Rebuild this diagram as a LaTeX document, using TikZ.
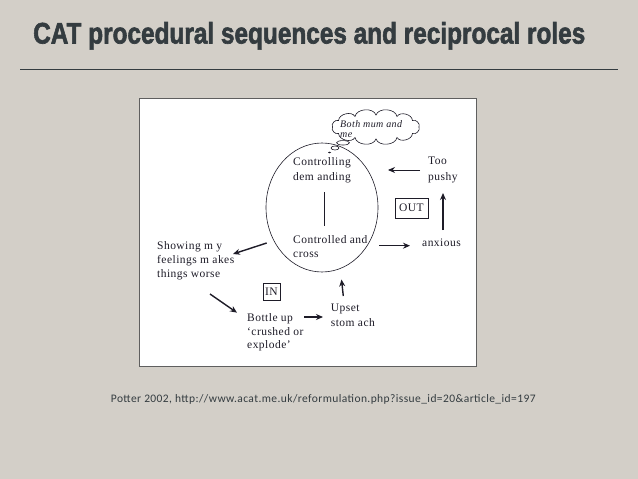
\documentclass[tikz,border=0pt]{standalone}
\usepackage{fontspec}
\usepackage{graphicx}
\usetikzlibrary{arrows.meta,shapes.geometric}
\setmainfont{Liberation Serif}
\newfontfamily\diagfont{Liberation Serif}[LetterSpace=4.0]
\newfontfamily\titlefont{Liberation Sans}[FakeBold=2.2]
\newfontfamily\capfont{Carlito}[LetterSpace=3.6]
\definecolor{bg}{RGB}{211,207,200}
\definecolor{titlec}{RGB}{52,60,64}
\definecolor{ink}{RGB}{30,28,40}
\definecolor{boxborder}{RGB}{95,95,95}
\newcommand{\mylines}[1]{\begin{tabular}[t]{@{}l@{}}#1\end{tabular}}
\tikzset{
  lbl/.style={anchor=base west, inner sep=0pt, text=ink, font=\diagfont\fontsize{11.5}{14.5}\selectfont},
  tagbox/.style={draw=ink, line width=0.6pt, inner sep=0pt, text=ink, font=\diagfont\fontsize{11.5}{14}\selectfont},
  arr/.style={-{Stealth[length=7pt,width=6pt]}, line width=1.4pt, draw=ink},
  thinarr/.style={-{Stealth[length=7pt,width=6pt]}, line width=0.9pt, draw=ink},
  thin line/.style={draw=ink, line width=0.6pt},
}
\begin{document}
\begin{tikzpicture}[x=1pt,y=-1pt]
\useasboundingbox (0,0) rectangle (638,479);
\fill[bg] (0,0) rectangle (638,479);
% title
\node[anchor=base west, inner sep=0pt, text=titlec] (title) at (33,43.5)
  {\resizebox{552pt}{21.5pt}{\titlefont\bfseries CAT procedural sequences and reciprocal roles}};
\coordinate (ruleL) at (20,69.3);
\coordinate (ruleR) at (618,69.3);
\draw[titlec, line width=1.1pt] (ruleL) -- (ruleR);
% diagram panel
\draw[fill=white, draw=boxborder, line width=1.2pt] (139.5,98.5) rectangle (476.5,366.3);
% self ellipse
\node[thin line, ellipse, minimum width=112pt, minimum height=129pt, inner sep=0pt] (self) at (322,207.5) {};
\coordinate (splitT) at (324,192);
\coordinate (splitB) at (324,226);
\draw[thin line] (splitT) -- (splitB);
% thought cloud
\draw[thin line, fill=white]
  (419,127) to[bend right=75] (412.4,120.5) to[bend right=75] (397,116.5) to[bend right=75] (376,115)
  to[bend right=75] (355,116.5) to[bend right=75] (338.6,120.5) to[bend right=75] (332.5,127)
  to[bend right=75] (338.6,133.5) to[bend right=75] (355,137.5) to[bend right=75] (376,139)
  to[bend right=75] (397,137.5) to[bend right=75] (412.4,133.5) to[bend right=75] cycle;
\node[thin line, ellipse, minimum width=13pt, minimum height=4.5pt, inner sep=0pt] (bub1) at (343,142.8) {};
\node[thin line, ellipse, minimum width=8pt, minimum height=4pt, inner sep=0pt] (bub2) at (335,148) {};
\node[fill=ink, ellipse, minimum width=3pt, minimum height=1.6pt, inner sep=0pt] (bub3) at (329.5,152.5) {};
\node[lbl, font=\diagfont\itshape\fontsize{10}{10}\selectfont] (cloudtxt) at (340,127) {\mylines{Both mum and\\ me}};
% labels
\node[lbl, font=\diagfont\fontsize{11.5}{15}\selectfont] (ctrl) at (293,165) {\mylines{Controlling\\ dem anding}};
\node[lbl, font=\diagfont\fontsize{11.5}{14}\selectfont] (cross) at (293,243) {\mylines{Controlled and\\ cross}};
\node[lbl, font=\diagfont\fontsize{11.5}{16}\selectfont] (too) at (428,164) {\mylines{Too\\ pushy}};
\node[lbl] (anx) at (422,246) {anxious};
\node[lbl, font=\diagfont\fontsize{11.5}{14}\selectfont] (show) at (157,249) {\mylines{Showing m y\\ feelings m akes\\ things worse}};
\node[lbl, font=\diagfont\fontsize{11.5}{13.3}\selectfont] (bottle) at (247,321.7) {\mylines{Bottle up\\ ‘crushed or\\ explode’}};
\node[lbl, font=\diagfont\fontsize{11.5}{14.3}\selectfont] (upset) at (330.7,311.7) {\mylines{Upset\\ stom ach}};
\node[tagbox, minimum width=17pt, minimum height=17pt] (in) at (271.5,291.5) {IN};
\node[tagbox, minimum width=33pt, minimum height=20pt] (out) at (411.5,208) {OUT};
% arrows
\coordinate (a1s) at (420,170);   \coordinate (a1e) at (388,170);
\draw[thinarr] (a1s) -- (a1e);
\coordinate (a2s) at (443,230);   \coordinate (a2e) at (443,193);
\draw[arr] (a2s) -- (a2e);
\coordinate (a3s) at (379,245.7); \coordinate (a3e) at (410,245.7);
\draw[arr] (a3s) -- (a3e);
\coordinate (a4s) at (343.3,296); \coordinate (a4e) at (341.5,279.5);
\draw[arr] (a4s) -- (a4e);
\coordinate (a5s) at (304,317);   \coordinate (a5e) at (323,317);
\draw[arr] (a5s) -- (a5e);
\coordinate (a6s) at (210,294);   \coordinate (a6e) at (237,312.7);
\draw[arr] (a6s) -- (a6e);
\coordinate (a7s) at (266.7,243); \coordinate (a7e) at (233,254);
\draw[arr] (a7s) -- (a7e);
% caption
\node[anchor=base west, inner sep=0pt, text=titlec, font=\capfont\fontsize{11.5}{13}\selectfont] (cap) at (110.7,402.3)
  {Potter 2002, http://www.acat.me.uk/reformulation.php?issue\_id=20\&article\_id=197};
\end{tikzpicture}
\end{document}
